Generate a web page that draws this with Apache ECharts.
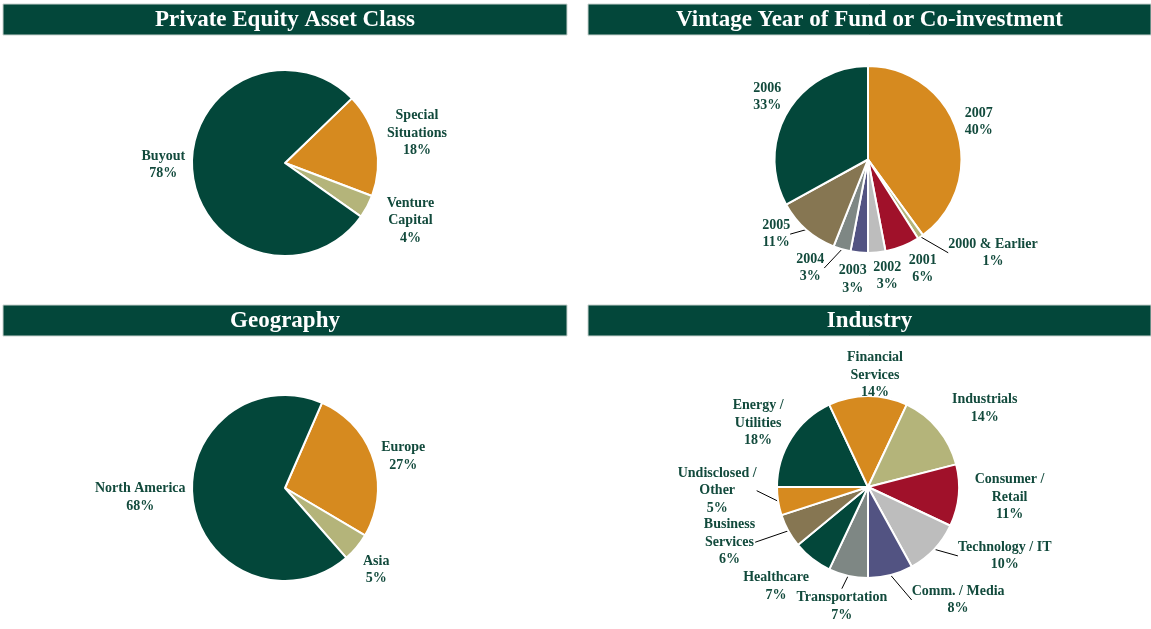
<!DOCTYPE html>
<html>
<head>
<meta charset="utf-8">
<title>Portfolio Diversification</title>
<script src="https://cdn.jsdelivr.net/npm/echarts@6/dist/echarts.min.js"></script>
<style>
  html, body { margin: 0; padding: 0; background: #fff; }
  #chart { width: 1151px; height: 629px; }
</style>
</head>
<body>
<div id="chart"></div>
<script>
// chart data
const assetClassNames = ['Special\nSituations', 'Venture\nCapital', 'Buyout']
const assetClassValues = [18, 4, 78]

const vintageNames = ['2007', '2000 & Earlier', '2001', '2002', '2003', '2004', '2005', '2006']
const vintageValues = [40, 1, 6, 3, 3, 3, 11, 33]

const geographyNames = ['Europe', 'Asia', 'North America']
const geographyValues = [27, 5, 68]

const industryNames = ['Energy /\nUtilities', 'Financial\nServices', 'Industrials', 'Consumer /\nRetail',
  'Technology / IT', 'Comm. / Media', 'Transportation', 'Healthcare', 'Business\nServices', 'Undisclosed /\nOther']
const industryValues = [18, 14, 14, 11, 10, 8, 7, 7, 6, 5]

const panelTitles = ['Private Equity Asset Class', 'Vintage Year of Fund or Co-investment', 'Geography', 'Industry']

// palette
const GREEN = '#03473a'
const ORANGE = '#d68a1f'
const KHAKI = '#b4b47a'
const RED = '#a0112a'
const LIGHTGREY = '#bdbdbd'
const PURPLE = '#525382'
const GREY = '#7e8784'
const BROWN = '#867652'
const LABEL = '#124a3c'

const chart = echarts.init(document.getElementById('chart'))

// offsets move each label's centre away from the edge ECharts anchors it at
function pieSeries(names, values, colors, center, radius, startAngle, offsets, lines) {
  return {
    type: 'pie',
    center: center,
    radius: radius,
    startAngle: startAngle,
    clockwise: true,
    avoidLabelOverlap: false,
    silent: true,
    data: names.map((n, i) => ({
      name: n,
      value: values[i],
      itemStyle: { color: colors[i] },
      labelLine: { show: lines.indexOf(i) >= 0 }
    })),
    itemStyle: { borderColor: '#fff', borderWidth: 2 },
    label: {
      position: 'outside',
      formatter: '{b}\n{c}%',
      color: LABEL,
      fontFamily: 'Liberation Serif',
      fontWeight: 'bold',
      fontSize: 14,
      lineHeight: 17.5
    },
    labelLine: {
      length: 6,
      length2: 0,
      lineStyle: { color: '#000', width: 1 }
    },
    labelLayout: function (p) {
      const off = offsets[p.dataIndex] || [0, 0]
      const r = p.labelRect
      const edge = p.align === 'right' ? r.x + r.width : r.x
      return {
        x: edge + off[0],
        y: r.y + r.height / 2 + off[1],
        align: 'center',
        verticalAlign: 'middle',
        hideOverlap: false
      }
    }
  }
}

function header(x, y, w, text) {
  return {
    type: 'group',
    children: [
      {
        type: 'rect',
        shape: { x: x, y: y, width: w, height: 31 },
        style: { fill: GREEN, stroke: '#c9d3cf', lineWidth: 1 }
      },
      {
        type: 'text',
        x: x + w / 2,
        y: y + 16,
        style: {
          text: text,
          fill: '#fff',
          font: 'bold 23px "Liberation Serif"',
          align: 'center',
          verticalAlign: 'middle'
        }
      }
    ]
  }
}

chart.setOption({
  backgroundColor: '#fff',
  animation: false,
  graphic: [
    header(3, 4, 564, panelTitles[0]),
    header(588, 4, 563, panelTitles[1]),
    header(3, 305, 564, panelTitles[2]),
    header(588, 305, 563, panelTitles[3])
  ],
  series: [
    pieSeries(assetClassNames, assetClassValues, [ORANGE, KHAKI, GREEN],
      [285, 163], 93, 44,
      [[30, -10], [33, 11], [-18, -5.5]], []),
    pieSeries(vintageNames, vintageValues, [ORANGE, KHAKI, RED, LIGHTGREY, PURPLE, GREY, BROWN, GREEN],
      [868, 159.5], 93.5, 90,
      [[11, -7], [64, 11], [13, 17], [5, 17.5], [-1, 21], [-25, 13], [-21, 0], [-10, -12]], [1, 5, 6]),
    pieSeries(geographyNames, geographyValues, [ORANGE, KHAKI, GREEN],
      [285, 488], 93, 66.5,
      [[19, -1], [10, 18.5], [-42, -6]], []),
    pieSeries(industryNames, industryValues,
      [GREEN, ORANGE, KHAKI, RED, LIGHTGREY, PURPLE, GREY, GREEN, BROWN, ORANGE],
      [868, 487], 91, 180,
      [[-23, -12], [12, -15], [37, -17], [40, 1], [61, 2.5], [61, 19], [0, 24.5], [-27.5, 22.5], [-48.5, 8.5], [-50, -11.5]],
      [4, 5, 6, 8, 9])
  ]
})
</script>
</body>
</html>
